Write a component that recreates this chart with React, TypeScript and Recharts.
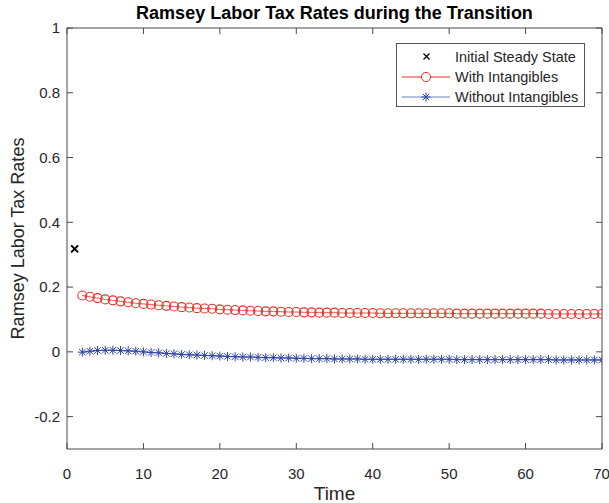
import {
  LineChart,
  Line,
  XAxis,
  YAxis,
  Label,
} from 'recharts';

const time = [
  1, 2, 3, 4, 5, 6, 7, 8, 9, 10, 11, 12, 13, 14, 15, 16, 17, 18, 19, 20,
  21, 22, 23, 24, 25, 26, 27, 28, 29, 30, 31, 32, 33, 34, 35, 36, 37, 38, 39, 40,
  41, 42, 43, 44, 45, 46, 47, 48, 49, 50, 51, 52, 53, 54, 55, 56, 57, 58, 59, 60,
  61, 62, 63, 64, 65, 66, 67, 68, 69, 70,
];

// t = 1 only
const initialSteadyState = [0.318];

// t = 2..70
const withIntangibles = [
  0.174, 0.170, 0.166, 0.162, 0.159, 0.156, 0.153, 0.150, 0.148, 0.146,
  0.144, 0.142, 0.140, 0.138, 0.137, 0.135, 0.134, 0.133, 0.131, 0.130,
  0.129, 0.128, 0.127, 0.126, 0.125, 0.125, 0.124, 0.123, 0.123, 0.122,
  0.122, 0.121, 0.121, 0.121, 0.120, 0.120, 0.120, 0.120, 0.120, 0.119,
  0.119, 0.119, 0.119, 0.119, 0.119, 0.119, 0.119, 0.119, 0.119, 0.118,
  0.118, 0.118, 0.118, 0.118, 0.118, 0.118, 0.118, 0.118, 0.118, 0.118,
  0.118, 0.117, 0.117, 0.117, 0.117, 0.117, 0.117, 0.117, 0.117,
];

const withoutIntangibles = [
  -0.001, 0.002, 0.004, 0.005, 0.005, 0.004, 0.003, 0.002, 0.000, -0.002,
  -0.003, -0.005, -0.006, -0.008, -0.009, -0.010, -0.011, -0.012, -0.013, -0.014,
  -0.015, -0.016, -0.016, -0.017, -0.018, -0.018, -0.019, -0.019, -0.020, -0.020,
  -0.021, -0.021, -0.021, -0.022, -0.022, -0.022, -0.022, -0.023, -0.023, -0.023,
  -0.023, -0.023, -0.023, -0.023, -0.023, -0.023, -0.023, -0.023, -0.023, -0.024,
  -0.024, -0.024, -0.024, -0.024, -0.024, -0.024, -0.024, -0.024, -0.024, -0.024,
  -0.024, -0.024, -0.025, -0.025, -0.025, -0.025, -0.025, -0.025, -0.025,
];

const xTicks = [0, 10, 20, 30, 40, 50, 60, 70];
const yTicks = [-0.2, 0, 0.2, 0.4, 0.6, 0.8, 1];

const RED = '#e8302a';
const BLUE = '#2f45a8';
const AXIS = '#4a4a4a';
const TEXT = '#262626';
const FONT = '"Liberation Sans", Arial, Helvetica, sans-serif';

const data = time.map((t, i) => ({
  t,
  initial: i === 0 ? initialSteadyState[0] : null,
  withInt: i === 0 ? null : withIntangibles[i - 1],
  withoutInt: i === 0 ? null : withoutIntangibles[i - 1],
}));

const CrossDot = (props: any) => {
  const { cx, cy, value } = props;
  if (value == null || cx == null || cy == null) return null;
  const s = 3.5;
  return (
    <path
      d={`M${cx - s},${cy - s}L${cx + s},${cy + s}M${cx - s},${cy + s}L${cx + s},${cy - s}`}
      stroke="#000"
      strokeWidth={2}
      fill="none"
    />
  );
};

const StarDot = (props: any) => {
  const { cx, cy, value } = props;
  if (value == null || cx == null || cy == null) return null;
  const s = 4.5;
  const d = 3.2;
  return (
    <path
      d={`M${cx - s},${cy}L${cx + s},${cy}M${cx},${cy - s}L${cx},${cy + s}M${cx - d},${cy - d}L${cx + d},${cy + d}M${cx - d},${cy + d}L${cx + d},${cy - d}`}
      stroke={BLUE}
      strokeWidth={1}
      fill="none"
    />
  );
};

const CircleDot = (props: any) => {
  const { cx, cy, value } = props;
  if (value == null || cx == null || cy == null) return null;
  return <circle cx={cx} cy={cy} r={4.5} stroke={RED} strokeWidth={1.1} fill="none" />;
};

const legendItems = [
  { name: 'Initial Steady State', kind: 'cross' },
  { name: 'With Intangibles', kind: 'circle' },
  { name: 'Without Intangibles', kind: 'star' },
];

function LegendBox() {
  return (
    <div
      style={{
        position: 'absolute',
        left: 396,
        top: 43,
        border: '1px solid #555',
        background: '#fff',
        width: 189,
        height: 64,
        boxSizing: 'border-box',
        paddingTop: 3,
        fontFamily: FONT,
        fontSize: 14.5,
        color: TEXT,
      }}
    >
      {legendItems.map((it) => (
        <div key={it.name} style={{ display: 'flex', alignItems: 'center', height: 20 }}>
          <svg width={58} height={20} style={{ flex: 'none' }}>
            {it.kind === 'cross' && (
              <path d="M26.5,6.5L32.5,12.5M26.5,12.5L32.5,6.5" stroke="#000" strokeWidth={1.3} />
            )}
            {it.kind === 'circle' && (
              <g>
                <line x1={5} x2={53} y1={10} y2={10} stroke={RED} strokeWidth={1} />
                <circle cx={29} cy={10} r={4.6} stroke={RED} fill="#fff" strokeWidth={1} />
              </g>
            )}
            {it.kind === 'star' && (
              <g>
                <line x1={5} x2={53} y1={10} y2={10} stroke="#6f7fc8" strokeWidth={1} />
                <path
                  d="M24.5,10L33.5,10M29,5.5L29,14.5M25.8,6.8L32.2,13.2M25.8,13.2L32.2,6.8"
                  stroke={BLUE}
                  strokeWidth={1}
                />
              </g>
            )}
          </svg>
          <span style={{ whiteSpace: 'nowrap' }}>{it.name}</span>
        </div>
      ))}
    </div>
  );
}

export default function App() {
  return (
    <div style={{ position: 'absolute', left: 0, top: 0, width: 609, height: 503, background: '#fff' }}>
      <div
        style={{
          position: 'absolute',
          left: 67,
          width: 535,
          top: 3,
          textAlign: 'center',
          fontFamily: FONT,
          fontWeight: 'bold',
          fontSize: 18,
          lineHeight: '21px',
          color: '#000',
        }}
      >
        Ramsey Labor Tax Rates during the Transition
      </div>
      <LineChart
        width={609}
        height={503}
        data={data}
        margin={{ top: 27, right: 6, bottom: 0, left: 0 }}
        style={{ fontFamily: FONT }}
      >
        <XAxis
          dataKey="t"
          type="number"
          domain={[0, 70]}
          ticks={xTicks}
          height={54}
          stroke={AXIS}
          tickSize={-6}
          tickMargin={25}
          tick={{ fontSize: 15, fill: TEXT }}
          allowDataOverflow
        >
          <Label
            value="Time"
            position="insideBottom"
            offset={3}
            style={{ fontSize: 19, fill: TEXT }}
          />
        </XAxis>
        <XAxis
          xAxisId="top"
          dataKey="t"
          type="number"
          orientation="top"
          domain={[0, 70]}
          ticks={xTicks}
          height={1}
          stroke={AXIS}
          tickSize={-6}
          tick={{ fill: 'transparent', fontSize: 1 }}
          allowDataOverflow
        />
        <YAxis
          type="number"
          domain={[-0.3, 1]}
          ticks={yTicks}
          width={67}
          stroke={AXIS}
          tickSize={-6}
          tickMargin={13}
          tick={{ fontSize: 15, fill: TEXT }}
          allowDataOverflow
        >
          <Label
            content={({ viewBox }: any) => (
              <text
                x={0}
                y={0}
                transform={`translate(${viewBox.x + 24}, ${viewBox.y + viewBox.height / 2}) rotate(-90)`}
                textAnchor="middle"
                fontSize={18}
                fill={TEXT}
                fontFamily={FONT}
              >
                Ramsey Labor Tax Rates
              </text>
            )}
          />
        </YAxis>
        <YAxis
          yAxisId="right"
          type="number"
          orientation="right"
          domain={[-0.3, 1]}
          ticks={yTicks}
          width={1}
          stroke={AXIS}
          tickSize={-6}
          tick={{ fill: 'transparent', fontSize: 1 }}
          allowDataOverflow
        />
        <Line
          xAxisId="top"
          yAxisId="right"
          dataKey="withInt"
          stroke="none"
          dot={false}
          activeDot={false}
          legendType="none"
          isAnimationActive={false}
        />
        <Line
          dataKey="initial"
          name="Initial Steady State"
          stroke="none"
          dot={<CrossDot />}
          activeDot={false}
          isAnimationActive={false}
          connectNulls={false}
        />
        <Line
          dataKey="withInt"
          name="With Intangibles"
          stroke={RED}
          strokeWidth={0.8}
          dot={<CircleDot />}
          activeDot={false}
          isAnimationActive={false}
        />
        <Line
          dataKey="withoutInt"
          name="Without Intangibles"
          stroke={BLUE}
          strokeWidth={0.8}
          dot={<StarDot />}
          activeDot={false}
          isAnimationActive={false}
        />
      </LineChart>
      <LegendBox />
    </div>
  );
}
